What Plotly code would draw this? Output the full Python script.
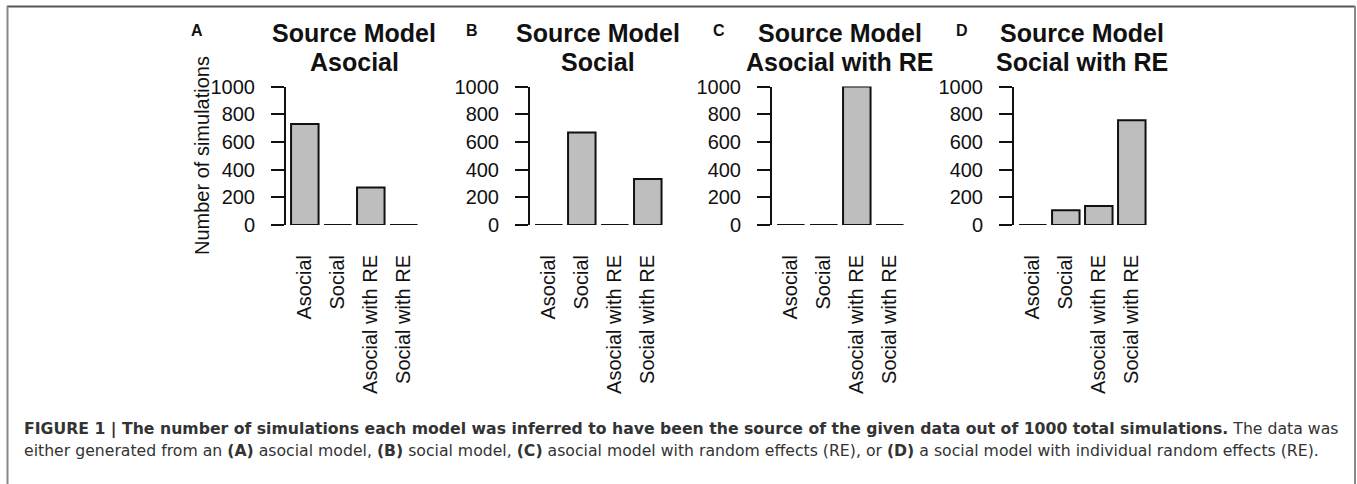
import plotly.graph_objects as go

# ---- data -------------------------------------------------------------
categories = ["Asocial", "Social", "Asocial with RE", "Social with RE"]
panel_letters = ["A", "B", "C", "D"]
source_models = ["Asocial", "Social", "Asocial with RE", "Social with RE"]
asocial_counts = [730, 0, 270, 0]
social_counts = [0, 667, 0, 333]
asocial_re_counts = [0, 0, 1000, 0]
social_re_counts = [0, 106, 137, 757]
y_ticks = [0, 200, 400, 600, 800, 1000]
y_label = "Number of simulations"

caption_bold = ("FIGURE 1 | The number of simulations each model was inferred to have been "
                "the source of the given data out of 1000 total simulations.")
caption_rest = " The data was"
caption_line2 = ("either generated from an <b>(A)</b> asocial model, <b>(B)</b> social model, "
                 "<b>(C)</b> asocial model with random effects (RE), or <b>(D)</b> a social "
                 "model with individual random effects (RE).")

panel_counts = [asocial_counts, social_counts, asocial_re_counts, social_re_counts]

# ---- layout geometry (pixels) ----------------------------------------
W, H = 1357, 484
axis_left = [286, 530, 772, 1014]
plot_w = 136.6
plot_top, plot_bottom = 86.5, 225
letter_x = [197, 472, 719, 962]

FONT = "Liberation Sans, Arial, Helvetica, sans-serif"
CAPTION_FONT = "DejaVu Sans, Liberation Sans, sans-serif"


def px(x):
    return x / W


def py(y):
    return 1 - y / H


fig = go.Figure()
annotations = []

for i, counts in enumerate(panel_counts):
    n = "" if i == 0 else str(i + 1)
    fig.add_trace(go.Bar(
        x=categories, y=counts,
        xaxis="x" + n, yaxis="y" + n,
        marker=dict(color="#BEBEBE", line=dict(color="#111", width=2)),
        cliponaxis=False, showlegend=False, hoverinfo="x+y",
    ))
    x0 = axis_left[i]
    fig.update_layout(**{
        "xaxis" + n: dict(
            domain=[px(x0), px(x0 + plot_w)], anchor="y" + n,
            type="category", range=[-0.57, 3.57], automargin=False,
            showline=False, showgrid=False, zeroline=False,
            ticks="", tickangle=-90, ticklabelstandoff=25,
            tickfont=dict(family=FONT, size=20, color="#111"),
        ),
        "yaxis" + n: dict(
            domain=[py(plot_bottom), py(plot_top)], anchor="x" + n,
            range=[0, 1000], tickvals=y_ticks, automargin=False,
            showline=True, linecolor="#111", linewidth=2,
            ticks="outside", ticklen=13, tickwidth=2, tickcolor="#111",
            ticklabelstandoff=12,
            showgrid=False, zeroline=False,
            tickfont=dict(family=FONT, size=20, color="#111"),
        ),
    })
    cx = x0 + plot_w / 2
    annotations.append(dict(
        x=px(cx), y=py(33), xref="paper", yref="paper",
        text="<b>Source Model</b>", showarrow=False,
        xanchor="center", yanchor="middle",
        font=dict(family=FONT, size=25, color="#111"),
    ))
    annotations.append(dict(
        x=px(cx), y=py(62), xref="paper", yref="paper",
        text="<b>" + source_models[i] + "</b>", showarrow=False,
        xanchor="center", yanchor="middle",
        font=dict(family=FONT, size=25, color="#111"),
    ))
    annotations.append(dict(
        x=px(letter_x[i]), y=py(31), xref="paper", yref="paper",
        text="<b>" + panel_letters[i] + "</b>", showarrow=False,
        xanchor="center", yanchor="middle",
        font=dict(family=FONT, size=16, color="#111"),
    ))

# y-axis title of the first panel
annotations.append(dict(
    x=px(202), y=py(156), xref="paper", yref="paper",
    text=y_label, showarrow=False, textangle=-90,
    xanchor="center", yanchor="middle",
    font=dict(family=FONT, size=20, color="#111"),
))

# caption
annotations.append(dict(
    x=px(22), y=py(429), xref="paper", yref="paper",
    text="<b>" + caption_bold + "</b>" + caption_rest, showarrow=False,
    xanchor="left", yanchor="middle",
    font=dict(family=CAPTION_FONT, size=15.7, color="#333"),
))
annotations.append(dict(
    x=px(22), y=py(450), xref="paper", yref="paper",
    text=caption_line2, showarrow=False,
    xanchor="left", yanchor="middle",
    font=dict(family=CAPTION_FONT, size=15.7, color="#333"),
))

# frame around the figure
shapes = [
    dict(type="line", xref="paper", yref="paper", x0=px(7), x1=px(1355), y0=py(6.5), y1=py(6.5),
         line=dict(color="#555", width=2)),
    dict(type="line", xref="paper", yref="paper", x0=px(7.5), x1=px(7.5), y0=py(6), y1=0,
         line=dict(color="#888", width=2)),
    dict(type="line", xref="paper", yref="paper", x0=px(1355), x1=px(1355), y0=py(6), y1=0,
         line=dict(color="#888", width=2)),
]

fig.update_layout(
    template="none",
    width=W, height=H,
    margin=dict(l=0, r=0, t=0, b=0, pad=0, autoexpand=False),
    paper_bgcolor="white", plot_bgcolor="white",
    bargap=1 / 6,
    annotations=annotations, shapes=shapes,
    font=dict(family=FONT),
)

fig.write_html("out.html")
